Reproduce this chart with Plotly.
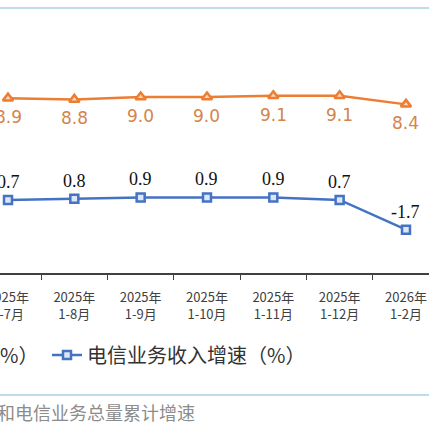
import plotly.graph_objects as go

categories = ["2025年<br>1-7月", "2025年<br>1-8月", "2025年<br>1-9月", "2025年<br>1-10月",
              "2025年<br>1-11月", "2025年<br>1-12月", "2026年<br>1-2月"]
volume_growth = [8.9, 8.8, 9.0, 9.0, 9.1, 9.1, 8.4]
revenue_growth = [0.7, 0.8, 0.9, 0.9, 0.9, 0.7, -1.7]
volume_name = "电信业务总量增速（%）"
revenue_name = "电信业务收入增速（%）"
caption = "图1 电信业务收入和电信业务总量累计增速"

ORANGE = "#ED7D31"
BLUE = "#4472C4"

fig = go.Figure()
fig.add_trace(go.Scatter(
    x=categories, y=volume_growth, name=volume_name, mode="lines+markers",
    line=dict(color=ORANGE, width=2.5),
    marker=dict(symbol="triangle-up", size=9, color="#F8D8C0", line=dict(color=ORANGE, width=2.5)),
    legend="legend", hoverinfo="skip",
))
fig.add_trace(go.Scatter(
    x=categories, y=revenue_growth, name=revenue_name, mode="lines+markers",
    line=dict(color=BLUE, width=2.5),
    marker=dict(symbol="square", size=8, color="#DDE6F5", line=dict(color=BLUE, width=2.5)),
    legend="legend2", hoverinfo="skip",
))

W, H = 429, 428
top, bottom = 20, 273
ph = bottom - top

def py(pix):
    return (bottom - pix) / ph

annotations = []
for c, v in zip(categories, volume_growth):
    annotations.append(dict(x=c, y=v, xref="x", yref="y", text=f"{v:.1f}", showarrow=False,
                            yshift=-19, yanchor="middle",
                            font=dict(family="DejaVu Sans", size=17, color="#D4844C")))
for c, v in zip(categories, revenue_growth):
    annotations.append(dict(x=c, y=v, xref="x", yref="y", text=f"{v:.1f}", showarrow=False,
                            yshift=18, yanchor="middle",
                            font=dict(family="Liberation Serif", size=18, color="#111111")))
annotations.append(dict(text=caption, xref="paper", yref="paper", x=197 / W, xanchor="right",
                        y=py(412), yanchor="middle", showarrow=False,
                        font=dict(family="Noto Sans CJK SC", size=18, color="#8C8C8C")))

fig.update_layout(
    width=W, height=H,
    margin=dict(l=0, r=0, t=top, b=H - bottom, autoexpand=False),
    paper_bgcolor="white", plot_bgcolor="white",
    xaxis=dict(
        type="category", range=[-0.1206, 6.347],
        showline=True, linecolor="#404040", linewidth=1.5,
        ticks="outside", tickson="boundaries", ticklen=5, tickcolor="#404040",
        ticklabelstandoff=12,
        tickfont=dict(family="Noto Sans CJK SC", size=13, color="#404040"),
        showgrid=False, zeroline=False,
    ),
    yaxis=dict(range=[-5.19, 15.2], visible=False, showgrid=False, zeroline=False),
    legend=dict(
        orientation="h", x=44 / W, xanchor="right", y=py(355), yanchor="middle",
        font=dict(family="Noto Sans CJK SC", size=20, color="#333333"),
        bgcolor="rgba(0,0,0,0)",
    ),
    legend2=dict(
        orientation="h", x=47 / W, xanchor="left", y=py(355), yanchor="middle",
        font=dict(family="Noto Sans CJK SC", size=20, color="#333333"),
        bgcolor="rgba(0,0,0,0)",
    ),
    showlegend=True,
    hovermode=False,
    shapes=[
        dict(type="line", xref="paper", yref="paper", x0=-0.1, x1=1.1, y0=py(8), y1=py(8),
             line=dict(color="#A6D2E2", width=1.5)),
        dict(type="line", xref="paper", yref="paper", x0=-0.1, x1=1.1, y0=py(395), y1=py(395),
             line=dict(color="#A6D2E2", width=1.5)),
    ],
    annotations=annotations,
)

fig.write_html("out.html", config={"displayModeBar": False},
               post_script="document.body.style.margin='0';document.body.style.overflow='hidden';")
